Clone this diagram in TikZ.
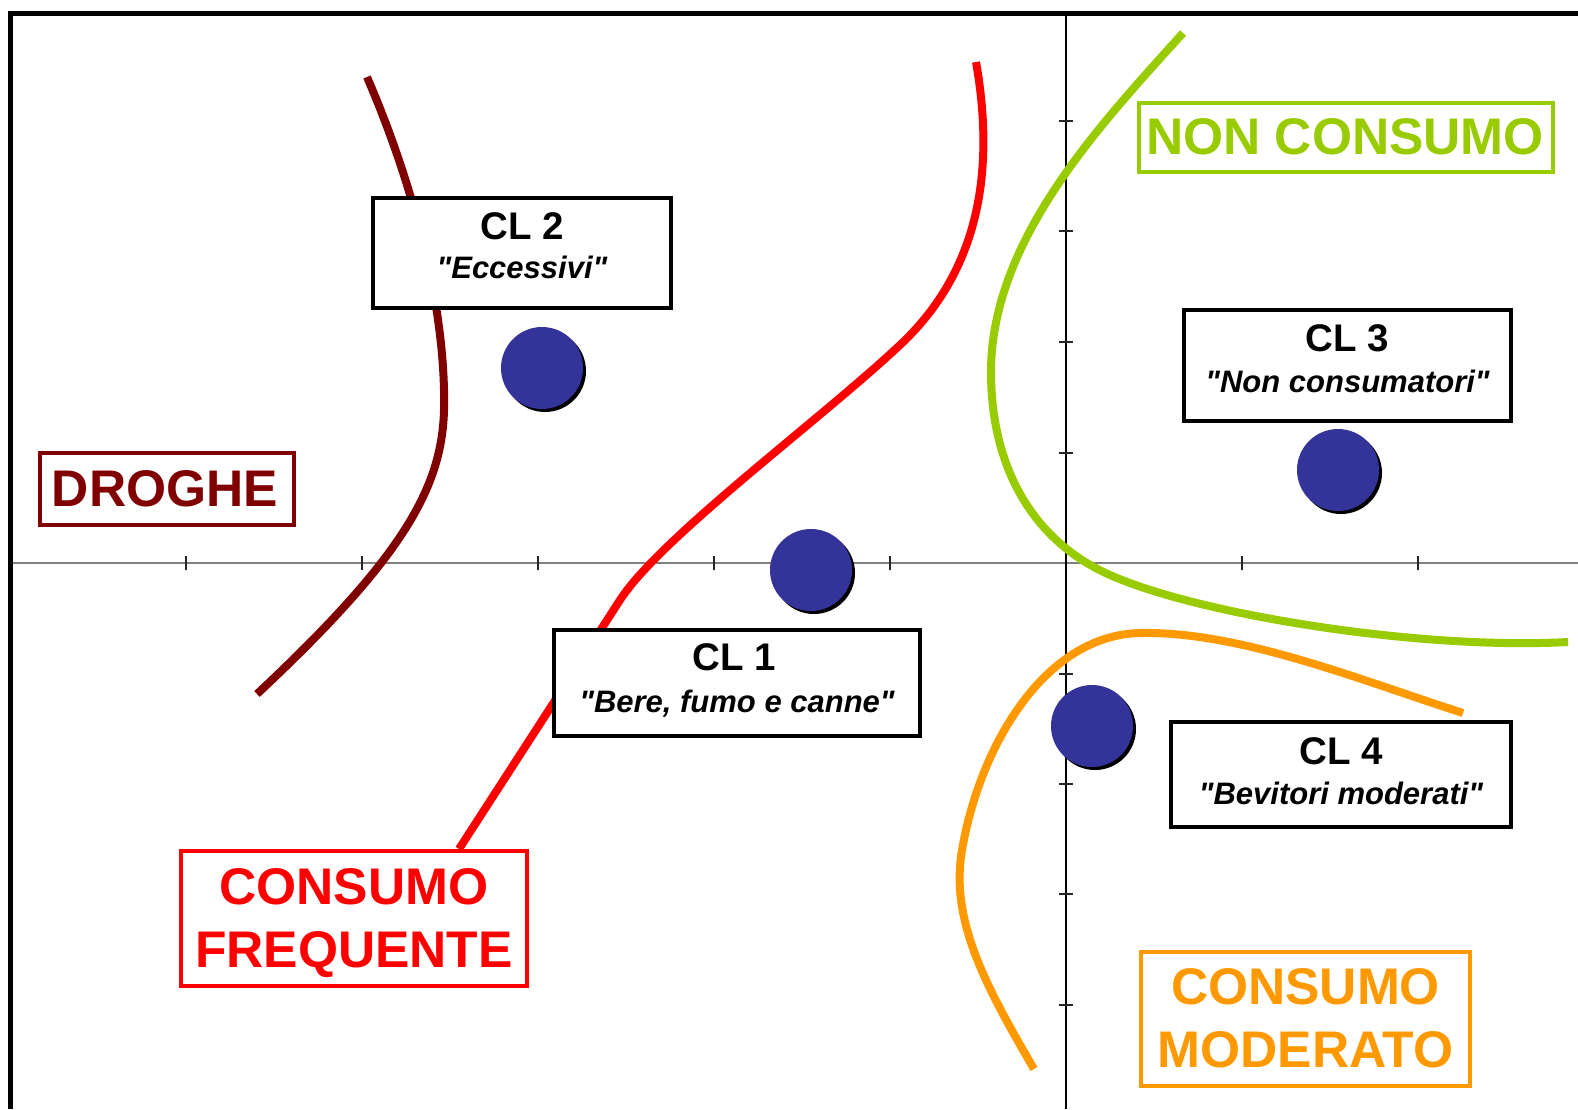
\documentclass[tikz,border=0pt]{standalone}
\usepackage{fontspec}
\setmainfont{Liberation Sans}[Ligatures=TeXOff]
\usetikzlibrary{calc}
\definecolor{drogcol}{HTML}{800000}
\definecolor{freqcol}{HTML}{FF0000}
\definecolor{noncol}{HTML}{99CC00}
\definecolor{modcol}{HTML}{FF9900}
\definecolor{dotblue}{HTML}{333399}
\tikzset{
  clbox/.style={draw=black, line width=4pt, fill=white, inner sep=0pt, outer sep=0pt, rectangle},
  cltitle/.style={font=\fontsize{38.5}{40}\selectfont\bfseries, anchor=base, inner sep=0pt},
  clsub/.style={font=\fontsize{31}{34}\selectfont\bfseries\itshape, anchor=base, inner sep=0pt},
  bigbox/.style={line width=3.5pt, fill=white, inner sep=0pt, outer sep=0pt, rectangle},
  bigtext/.style={font=\fontsize{51.5}{54}\selectfont\bfseries, anchor=base, inner sep=0pt},
  dotnode/.style={circle, fill=dotblue, minimum size=82pt, inner sep=0pt},
  dotshadow/.style={circle, fill=black, minimum size=82pt, inner sep=0pt},
  border/.style={line width=8pt, line cap=butt},
  tickmark/.style={line width=1.3pt, black!85},
}
\begin{document}
\begin{tikzpicture}[x=1pt, y=-1pt]
\useasboundingbox (0,0) rectangle (1578,1109);
\fill[white] (0,0) rectangle (1578,1109);

% axes
\draw[line width=1.8pt, black!50] (10,563) -- (1578,563);
\draw[line width=1.3pt, black] (1066,13) -- (1066,1109);
\foreach \tx in {186,362,538,714,890,1242,1418}
  \draw[tickmark] (\tx,556) -- (\tx,570);
\foreach \ty in {121,231,342,453,674,784,894,1005}
  \draw[tickmark] (1059,\ty) -- (1073,\ty);

% region borders
\draw[border, drogcol] (367,77) .. controls (420,200) and (446,320) .. (444,410)
  .. controls (442,490) and (400,560) .. (257,694);
\draw[border, freqcol] (976,62) .. controls (995,170) and (980,270) .. (900,345)
  .. controls (820,420) and (660,538) .. (620,600) -- (459,849);
\draw[border, noncol] (1183,33) .. controls (1100,125) and (991,240) .. (991,372)
  .. controls (991,470) and (1035,542) .. (1110,575)
  .. controls (1200,615) and (1420,650) .. (1568,642);
\draw[border, modcol] (1034,1069) .. controls (985,985) and (950,920) .. (962,850)
  .. controls (980,745) and (1045,635) .. (1140,633)
  .. controls (1240,631) and (1360,680) .. (1463,713);

% cluster boxes
\node[clbox, minimum width=298pt, minimum height=110pt] (cl2) at (522,253) {};
\node[cltitle] (cl2t) at ([yshift=-41pt]cl2.north) {CL 2};
\node[clsub] (cl2s) at ([yshift=-80pt]cl2.north) {"Eccessivi"};

\node[clbox, minimum width=366pt, minimum height=106pt] (cl1) at (737,683) {};
\node[cltitle] (cl1t) at ([xshift=-3pt,yshift=-40pt]cl1.north) {CL 1};
\node[clsub] (cl1s) at ([yshift=-82pt]cl1.north) {"Bere, fumo e canne"};

\node[clbox, minimum width=327pt, minimum height=111pt] (cl3) at (1347.5,365.5) {};
\node[cltitle] (cl3t) at ([yshift=-41pt]cl3.north) {CL 3};
\node[clsub] (cl3s) at ([yshift=-82pt]cl3.north) {"Non consumatori"};

\node[clbox, minimum width=340pt, minimum height=105pt] (cl4) at (1341,774.5) {};
\node[cltitle] (cl4t) at ([yshift=-42pt]cl4.north) {CL 4};
\node[clsub] (cl4s) at ([yshift=-82pt]cl4.north) {"Bevitori moderati"};

% region labels
\node[bigbox, draw=drogcol, minimum width=254pt, minimum height=72pt] (drog) at (167,489) {};
\node[bigtext, text=drogcol] (drogt) at ([xshift=-2pt,yshift=-53pt]drog.north) {DROGHE};

\node[bigbox, draw=noncol, minimum width=414pt, minimum height=69pt] (non) at (1346,137.5) {};
\node[bigtext, text=noncol] (nont) at ([xshift=-1pt,yshift=-51pt]non.north) {NON CONSUMO};

\node[bigbox, draw=freqcol, minimum width=346pt, minimum height=135pt] (freq) at (354,918.5) {};
\node[bigtext, text=freqcol] (freqt1) at ([yshift=-53pt]freq.north) {CONSUMO};
\node[bigtext, text=freqcol] (freqt2) at ([yshift=-116pt]freq.north) {FREQUENTE};

\node[bigbox, draw=modcol, minimum width=329pt, minimum height=134pt] (mod) at (1305.5,1019) {};
\node[bigtext, text=modcol] (modt1) at ([yshift=-52pt]mod.north) {CONSUMO};
\node[bigtext, text=modcol] (modt2) at ([yshift=-115pt]mod.north) {MODERATO};

% cluster points
\foreach \nm/\px/\py in {d2/542/368, d1/811/570, d3/1338/470, d4/1092/726} {
  \node[dotshadow] (\nm s) at (\px+3,\py+3) {};
  \node[dotnode] (\nm) at (\px,\py) {};
}

% frame
\draw[line width=5pt, black, line join=miter] (1578,13) -- (10.5,13) -- (10.5,1109);
\end{tikzpicture}
\end{document}
